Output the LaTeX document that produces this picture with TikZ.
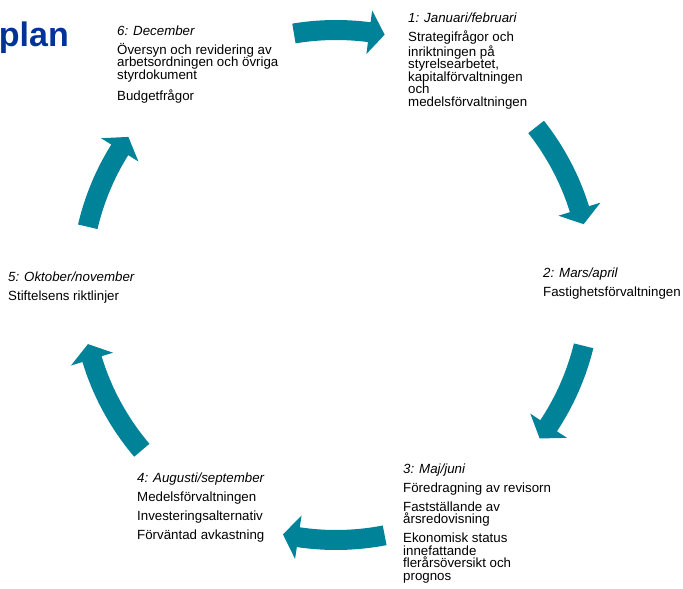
\documentclass[tikz,border=0pt]{standalone}
\usepackage{fontspec}
\setmainfont{Liberation Sans}
\definecolor{cycleteal}{RGB}{0,131,152}
\definecolor{titleblue}{RGB}{0,51,153}
\newcommand{\phasefont}{\fontsize{13.3}{12.5}\selectfont}
\newcommand{\phasehead}[1]{\rule{0pt}{11pt}\textit{#1}\\[6.6pt]}
\newcommand{\cyclearrow}[2]{%
  \pgfmathsetmacro{\headang}{#2+3.5}%
  \fill[cycleteal] (#1:265) arc[start angle=#1, end angle=\headang, radius=265]
    -- (\headang:277) -- (#2:255) -- (\headang:233) -- (\headang:245)
    arc[start angle=\headang, end angle=#1, radius=245] -- cycle;}
\tikzset{phase/.style={anchor=north west, inner sep=0pt, align=left, font=\phasefont}}
\begin{document}
\begin{tikzpicture}[x=1pt,y=1pt]
    \useasboundingbox (0,0) rectangle (683,589);
    \node[anchor=base east, inner sep=0pt, font=\fontsize{34}{34}\selectfont\bfseries, text=titleblue] (title) at (69,542) {plan};

    \node[phase] (jan) at (408,577.5) {\phasehead{1: Januari/februari}Strategifrågor och\\inriktningen på\\styrelsearbetet,\\kapitalförvaltningen\\och\\medelsförvaltningen};
    \node[phase] (mar) at (543,323) {\phasehead{2: Mars/april}Fastighetsförvaltningen};
    \node[phase] (maj) at (403,127) {\phasehead{3: Maj/juni}Föredragning av revisorn\\[6.6pt]Fastställande av\\årsredovisning\\[6.6pt]Ekonomisk status\\innefattande\\flerårsöversikt och\\prognos};
    \node[phase] (aug) at (137,118) {\phasehead{4: Augusti/september}Medelsförvaltningen\\[6.6pt]Investeringsalternativ\\[6.6pt]Förväntad avkastning};
    \node[phase] (okt) at (8,319) {\phasehead{5: Oktober/november}Stiftelsens riktlinjer};
    \node[phase] (dec) at (117,565) {\phasehead{6: December}Översyn och revidering av\\arbetsordningen och övriga\\styrdokument\\[6.6pt]Budgetfrågor};

    \coordinate (c) at (336,304);
    \begin{scope}[shift={(c)}]
        \cyclearrow{99.5}{79}
        \cyclearrow{38.3}{13.8}
        \cyclearrow{-13.8}{-37}
        \cyclearrow{-79}{-102}
        \cyclearrow{220.4}{193.4}
        \cyclearrow{166.8}{144.5}
    \end{scope}
\end{tikzpicture}
\end{document}
